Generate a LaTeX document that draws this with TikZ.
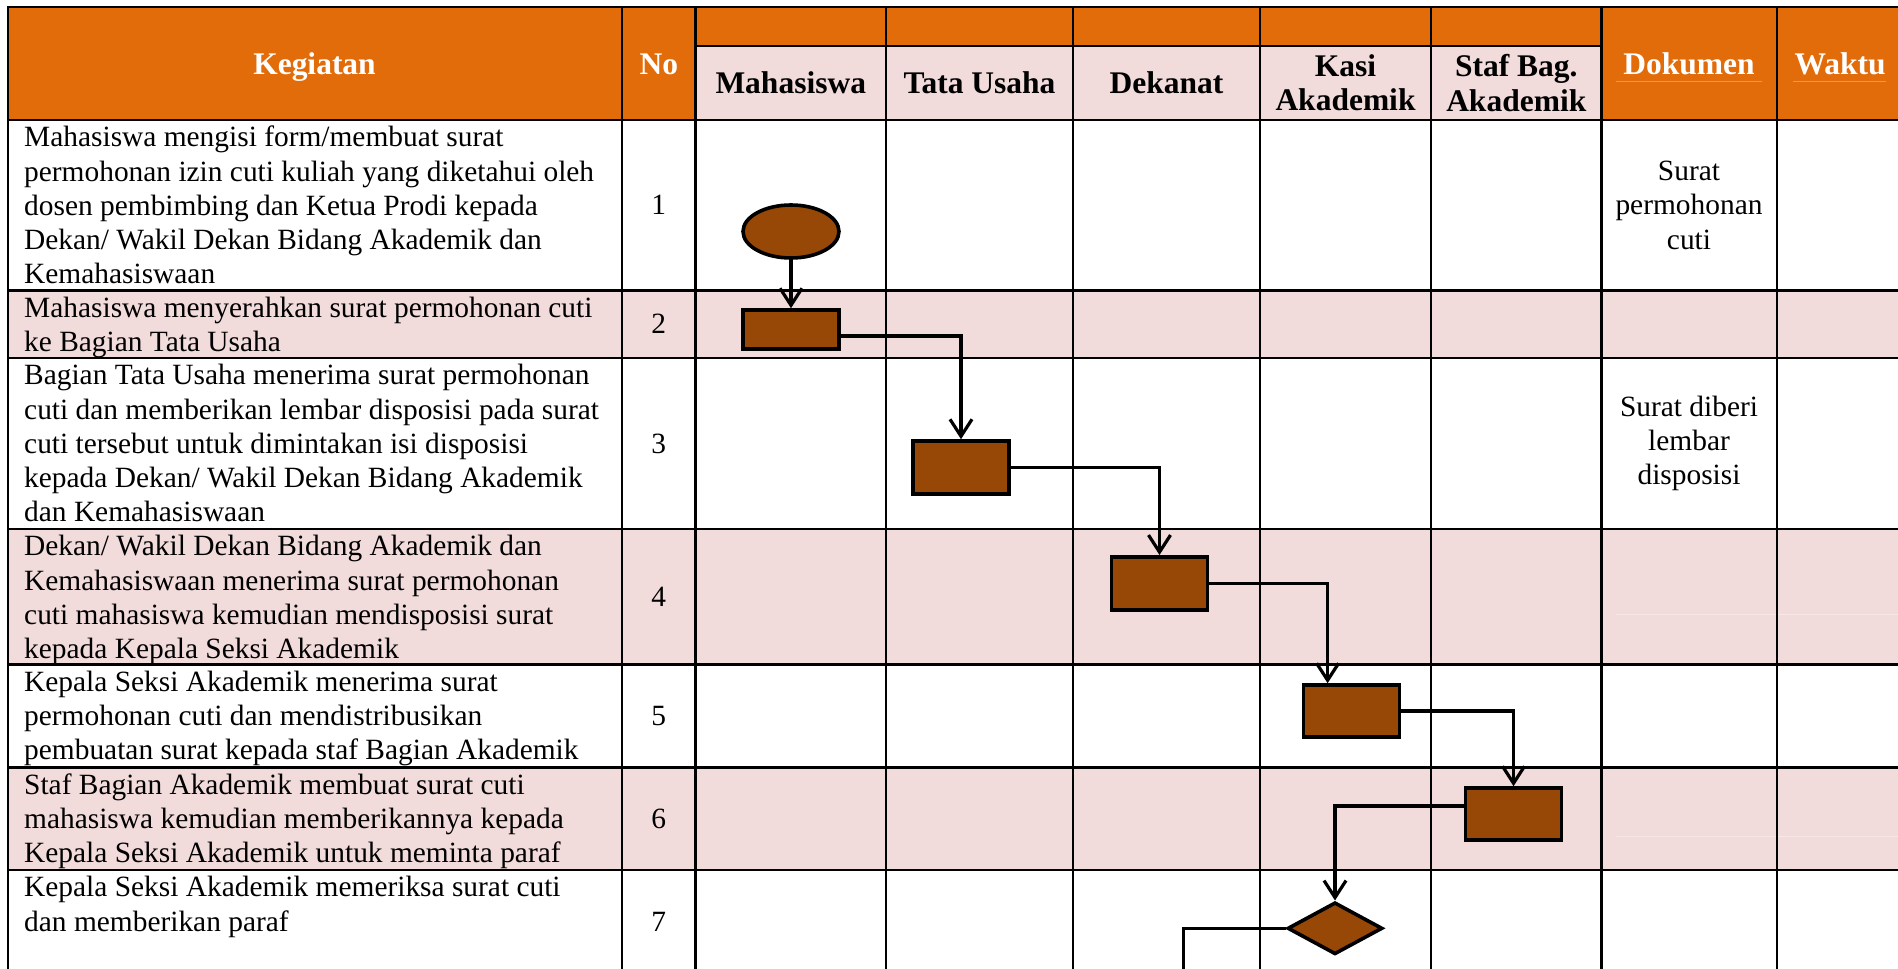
\documentclass[tikz,border=0pt]{standalone}
\usepackage{fontspec}
\setmainfont{Liberation Serif}
\usetikzlibrary{shapes.geometric,arrows.meta}
\definecolor{hdrorange}{HTML}{E36C0A}
\definecolor{rowpink}{HTML}{F2DBDB}
\definecolor{shapebrown}{HTML}{974806}
\begin{document}
\begin{tikzpicture}[x=1pt,y=-1pt,
  gridline/.style={line width=2.4pt, black, line cap=rect},
  body/.style={font=\fontsize{29.4}{34.3}\selectfont, inner sep=0pt, align=left, anchor=north west},
  numtxt/.style={font=\fontsize{29.4}{34.3}\selectfont, inner sep=0pt},
  doctxt/.style={font=\fontsize{29.4}{34.3}\selectfont, inner sep=0pt, align=center},
  hdrw/.style={font=\fontsize{31.5}{36}\selectfont\bfseries, text=white, inner sep=0pt, anchor=base},
  hdrb/.style={font=\fontsize{31.5}{34.3}\selectfont\bfseries, text=black, inner sep=0pt, align=center},
  procbox/.style={rectangle, draw=black, line width=3.6pt, fill=shapebrown, minimum width=96pt, minimum height=53pt, inner sep=0pt},
  startell/.style={ellipse, draw=black, line width=3.6pt, fill=shapebrown, minimum width=96pt, minimum height=53pt, inner sep=0pt},
  decis/.style={diamond, draw=black, line width=3.6pt, fill=shapebrown, minimum width=95pt, minimum height=52pt, inner sep=0pt, aspect=1.8},
  flow/.style={line width=3.2pt, -{Straight Barb[length=17pt,width=22pt]}},
  flowplain/.style={line width=3.2pt},
  faint/.style={line width=0.7pt, color=hdrorange!70!white},
  faintp/.style={line width=0.7pt, color=rowpink!70!white},
]
\useasboundingbox (0,0) rectangle (1898,969);
\clip (0,0) rectangle (1898,969);
\fill[white] (0,0) rectangle (1898,969);
% fills
\fill[hdrorange] (8,7) rectangle (1904,120);
\fill[rowpink] (695.5,45.7) rectangle (1601.5,120);
\fill[rowpink] (8,290.5) rectangle (1904,358);
\fill[rowpink] (8,529) rectangle (1904,664.5);
\fill[rowpink] (8,767.5) rectangle (1904,870);
% faint remnants
\draw[faint] (1616,81.7) -- (1762,81.7);
\draw[faint] (1793,81.7) -- (1886,81.7);
\draw[faintp] (1616,614) -- (1898,614);
\draw[faintp] (1616,836) -- (1898,836);
% grid
\foreach \yy in {7,120,290.5,358,529,664.5,767.5,870}
  \draw[gridline] (8,\yy) -- (1904,\yy);
\draw[gridline] (695.5,45.7) -- (1601.5,45.7);
\foreach \xx in {8,622,695.5,886,1073,1260,1431,1601.5,1777,1903}
  \draw[gridline] (\xx,7) -- (\xx,990);
% headers
\node[hdrw] (hk) at (314.5,74.5) {Kegiatan};
\node[hdrw] (hn) at (658.75,74.5) {No};
\node[hdrw] (hd) at (1689,74.5) {Dokumen};
\node[hdrw] (hw) at (1840,74.5) {Waktu};
\node[hdrb] (lm) at (790.75,83) {Mahasiswa};
\node[hdrb] (lt) at (979.5,83) {Tata Usaha};
\node[hdrb] (ld) at (1166.5,83) {Dekanat};
\node[hdrb] (lk) at (1345.5,83) {Kasi\\Akademik};
\node[hdrb] (ls) at (1516.25,83) {Staf Bag.\\Akademik};
% activity texts
\node[body] (t1) at (24,122.5) {\strut Mahasiswa mengisi form/membuat surat\\permohonan izin cuti kuliah yang diketahui oleh\\dosen pembimbing dan Ketua Prodi kepada\\Dekan/ Wakil Dekan Bidang Akademik dan\\Kemahasiswaan};
\node[body] (t2) at (24,293) {\strut Mahasiswa menyerahkan surat permohonan cuti\\ke Bagian Tata Usaha};
\node[body] (t3) at (24,360.5) {\strut Bagian Tata Usaha menerima surat permohonan\\cuti dan memberikan lembar disposisi pada surat\\cuti tersebut untuk dimintakan isi disposisi\\kepada Dekan/ Wakil Dekan Bidang Akademik\\dan Kemahasiswaan};
\node[body] (t4) at (24,531.5) {\strut Dekan/ Wakil Dekan Bidang Akademik dan\\Kemahasiswaan menerima surat permohonan\\cuti mahasiswa kemudian mendisposisi surat\\kepada Kepala Seksi Akademik};
\node[body] (t5) at (24,667) {\strut Kepala Seksi Akademik menerima surat\\permohonan cuti dan mendistribusikan\\pembuatan surat kepada staf Bagian Akademik};
\node[body] (t6) at (24,770) {\strut Staf Bagian Akademik membuat surat cuti\\mahasiswa kemudian memberikannya kepada\\Kepala Seksi Akademik untuk meminta paraf};
\node[body] (t7) at (24,872.5) {\strut Kepala Seksi Akademik memeriksa surat cuti\\dan memberikan paraf};
% numbers
\node[numtxt] (n1) at (658.75,205.25) {1};
\node[numtxt] (n2) at (658.75,324.25) {2};
\node[numtxt] (n3) at (658.75,443.5) {3};
\node[numtxt] (n4) at (658.75,596.75) {4};
\node[numtxt] (n5) at (658.75,716) {5};
\node[numtxt] (n6) at (658.75,818.75) {6};
\node[numtxt] (n7) at (658.75,922) {7};
% documents
\node[doctxt] (doc1) at (1689,205.25) {Surat\\permohonan\\cuti};
\node[doctxt] (doc3) at (1689,443.5) {Surat diberi\\lembar\\disposisi};
% flow shapes
\node[startell] (s) at (791,231.5) {};
\node[procbox, minimum height=39pt] (p1) at (791,329.5) {};
\node[procbox] (p2) at (961,467.5) {};
\node[procbox] (p3) at (1159.5,583.3) {};
\node[procbox, minimum height=52pt] (p4) at (1351.6,711) {};
\node[procbox, minimum height=52pt] (p5) at (1513.5,814) {};
\node[decis] (d) at (1335,928.3) {};
\coordinate (exitpt) at (1183.4,990);
% connectors
\draw[flow] (s.south) -- (p1.north);
\draw[flow] ([yshift=-6.5pt]p1.east) -| (p2.north);
\draw[flow] (p2.east) -| (p3.north);
\draw[flow] (p3.east) -| ([xshift=-24pt]p4.north);
\draw[flow] (p4.east) -| (p5.north);
\draw[flow] ([yshift=8pt]p5.west) -| (d.north);
\draw[flowplain] (d.west) -| (exitpt);
\end{tikzpicture}
\end{document}
